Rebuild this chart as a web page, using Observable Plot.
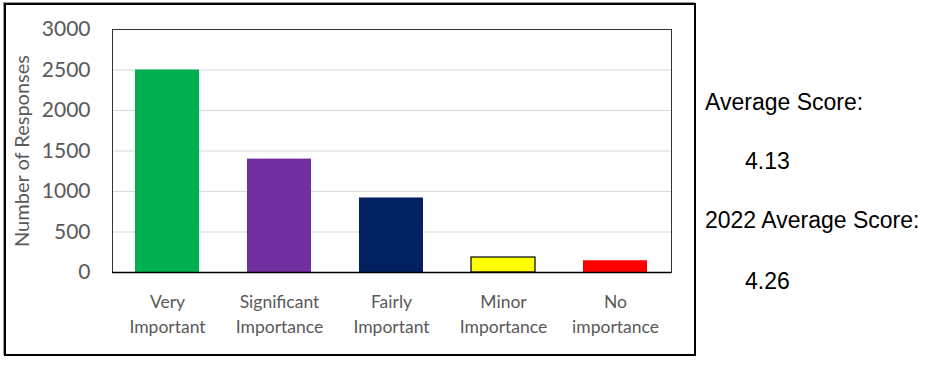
<!DOCTYPE html>
<html>
<head>
<meta charset="utf-8">
<script src="https://cdn.jsdelivr.net/npm/d3@7"></script>
<script src="https://cdn.jsdelivr.net/npm/@observablehq/plot@0.6"></script>
<style>
  html, body { margin: 0; padding: 0; background: #fff; }
  #wrap { position: relative; width: 935px; height: 371px; overflow: hidden; }
  #wrap svg { position: absolute; left: 0; top: 0; }
  #box { position: absolute; left: 4px; top: 3px; width: 688px; height: 349px; border: 2px solid #000; box-shadow: -1px -1px 0 #999; pointer-events: none; }
  .note { position: absolute; font-family: "Liberation Sans", Arial, sans-serif; font-size: 23px; color: #000; white-space: nowrap; line-height: 1; }
</style>
</head>
<body>
<div id="wrap"></div>
<script>
const categories = ["Very Important", "Significant Importance", "Fairly Important", "Minor Importance", "No importance"];
const categoryLabels = ["Very\nImportant", "Significant\nImportance", "Fairly\nImportant", "Minor\nImportance", "No\nimportance"];
const responses = [2500, 1400, 920, 185, 145];
const barColors = ["#00B050", "#7030A0", "#002060", "#FFFF00", "#FF0000"];
const outlined = ["Minor Importance"];
const yTicks = [0, 500, 1000, 1500, 2000, 2500, 3000];
const notes = ["Average Score:", "4.13", "2022 Average Score:", "4.26"];

const data = categories.map((c, i) => ({category: c, value: responses[i], color: barColors[i]}));
const labelOf = new Map(categories.map((c, i) => [c, categoryLabels[i]]));

const chart = Plot.plot({
  width: 935,
  height: 371,
  marginLeft: 112,
  marginRight: 264,
  marginTop: 29,
  marginBottom: 99,
  style: {fontFamily: "Lato, 'Open Sans', sans-serif", background: "transparent", color: "#595959"},
  x: {domain: categories, paddingInner: 0.427, paddingOuter: 0.2},
  y: {domain: [0, 3000]},
  color: {type: "identity"},
  marks: [
    Plot.gridY(yTicks, {stroke: "#d9d9d9", strokeOpacity: 1, strokeWidth: 1}),
    Plot.barY(data, {x: "category", y: "value", fill: "color"}),
    Plot.barY(data.filter(d => outlined.includes(d.category)), {x: "category", y: "value", fill: "color", stroke: "#000", strokeWidth: 1.2}),
    Plot.frame({stroke: "#333", strokeWidth: 1}),
    Plot.ruleY([0], {stroke: "#000", strokeWidth: 1.5}),
    Plot.axisY({ticks: yTicks, tickSize: 0, tickPadding: 22, fontSize: 21, fill: "#595959",
      tickFormat: d3.format("d"), label: null}),
    Plot.axisY({ticks: [], fontSize: 20, fill: "#595959",
      label: "Number of Responses", labelAnchor: "center", labelOffset: 98, labelArrow: "none"}),
    Plot.axisX({tickSize: 0, tickPadding: 18, fontSize: 17.5, lineHeight: 1.42, fill: "#595959",
      tickFormat: d => labelOf.get(d), label: null})
  ]
});
const wrap = document.getElementById("wrap");
wrap.appendChild(chart);
const box = document.createElement("div");
box.id = "box";
wrap.appendChild(box);

const notePos = [[705, 112], [745, 171], [705, 230], [745, 291]];
notes.forEach((t, i) => {
  const d = document.createElement("div");
  d.className = "note";
  d.textContent = t;
  d.style.left = notePos[i][0] + "px";
  d.style.top = (notePos[i][1] - 21) + "px";
  wrap.appendChild(d);
});
</script>
</body>
</html>
